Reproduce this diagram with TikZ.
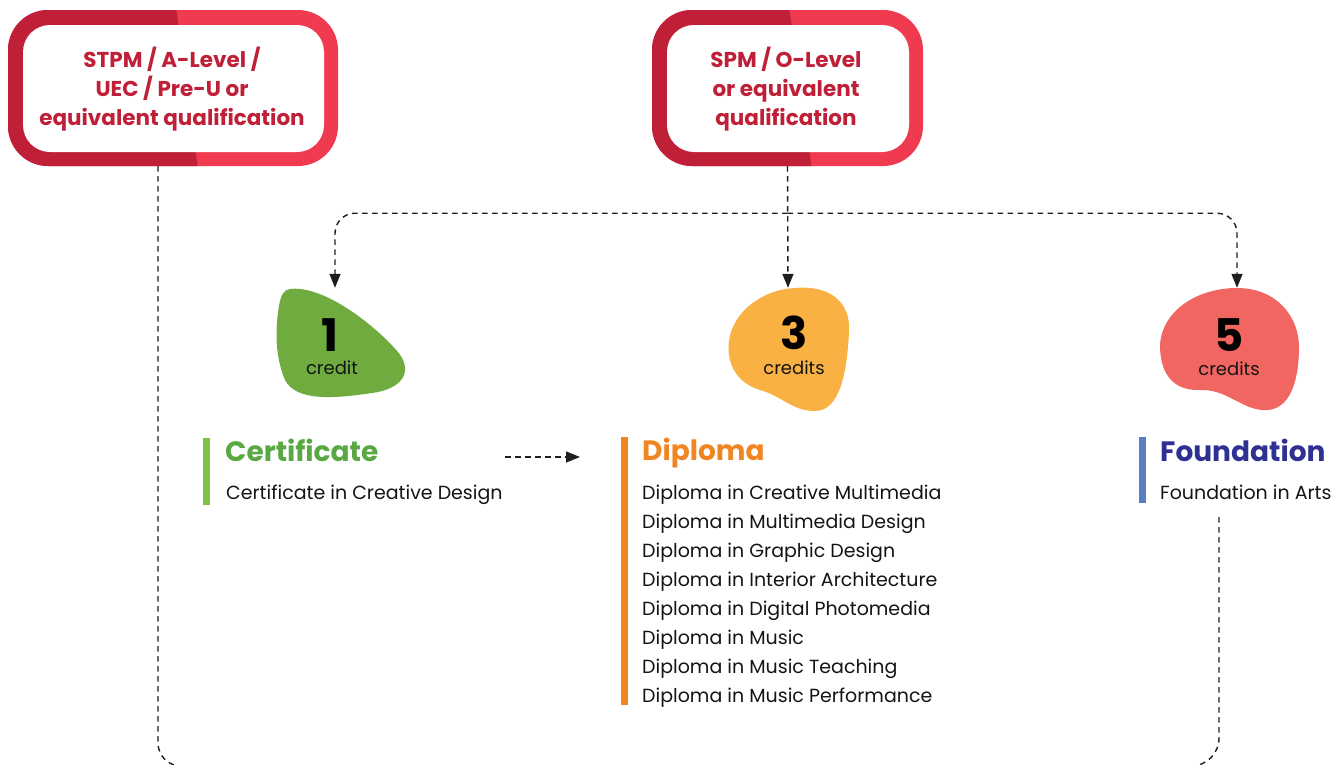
\documentclass[tikz,border=0pt]{standalone}
\usepackage{fontspec}
\setmainfont{Poppins}
\usetikzlibrary{arrows.meta,calc}
\definecolor{crimDark}{RGB}{192,31,56}
\definecolor{crimLight}{RGB}{239,58,79}
\definecolor{blobGreen}{RGB}{112,171,64}
\definecolor{blobOrange}{RGB}{249,177,67}
\definecolor{blobRed}{RGB}{242,102,98}
\definecolor{certHead}{RGB}{90,168,68}
\definecolor{certBar}{RGB}{125,194,67}
\definecolor{dipOrange}{RGB}{240,133,36}
\definecolor{fndHead}{RGB}{46,49,145}
\definecolor{fndBar}{RGB}{90,126,195}
\definecolor{txt}{RGB}{20,20,20}
\definecolor{lineCol}{RGB}{30,30,30}
\tikzset{
  body/.style={font=\fontsize{19}{29}\selectfont, text=txt, inner sep=0pt, anchor=base west},
  head/.style={font=\fontsize{28}{32}\selectfont\bfseries, inner sep=0pt, anchor=base west},
  qual/.style={font=\fontsize{21.5}{29}\selectfont\bfseries, text=crimDark, inner sep=0pt, anchor=base},
  num/.style={font=\fontsize{45}{45}\selectfont\bfseries, text=black, inner sep=0pt, anchor=base, text depth=0pt},
  cred/.style={font=\fontsize{18}{20}\selectfont, text=txt, inner sep=0pt, anchor=base, text height=12pt},
  frame/.style={inner sep=0pt, minimum width=#1, minimum height=156pt},
  blobanchor/.style={inner sep=0pt, minimum width=100pt, minimum height=114pt},
  conn/.style={draw=lineCol, line width=1.4pt, dash pattern=on 5.5pt off 4.5pt},
  arr/.style={-{Triangle[length=14pt,width=11pt]}},
}
\begin{document}
\begin{tikzpicture}[x=1pt,y=-1pt]
\useasboundingbox (0,0) rectangle (1341,764);
\clip (0,0) rectangle (1341,764);

% ---- qualification frames ----
\node[frame=330pt] (q1) at (173,88) {};
\node[frame=271pt] (q2) at (787.5,88) {};
\begin{scope}
  \fill[crimLight, rounded corners=40pt] (8,10) rectangle (338,166);
  \clip[rounded corners=40pt] (8,10) rectangle (338,166);
  \fill[crimDark] (0,0) -- (175,0) -- (198,170) -- (0,170) -- cycle;
\end{scope}
\fill[white, rounded corners=27pt] (23,25) rectangle (324,152);
\begin{scope}
  \fill[crimLight, rounded corners=40pt] (652,10) rectangle (923,166);
  \clip[rounded corners=40pt] (652,10) rectangle (923,166);
  \fill[crimDark] (640,0) -- (788,0) -- (812,170) -- (640,170) -- cycle;
\end{scope}
\fill[white, rounded corners=27pt] (667,25) rectangle (909,152);

\node[qual] (q1a) at (172,67) {STPM / A-Level /};
\node[qual] (q1b) at (172,96) {UEC / Pre-U or};
\node[qual] (q1c) at (172,125) {equivalent qualification};
\node[qual] (q2a) at (786,67) {SPM / O-Level};
\node[qual] (q2b) at (786,96) {or equivalent};
\node[qual] (q2c) at (786,125) {qualification};

% ---- blobs ----
\fill[blobGreen] (290,289) .. controls (322,285) and (372,322) .. (398,352)
  .. controls (414,372) and (402,389) .. (372,393)
  .. controls (332,399) and (296,401) .. (285,380)
  .. controls (275,356) and (275,330) .. (279,306)
  .. controls (281,294) and (284,290) .. (290,289);
\fill[blobOrange] (795,288) .. controls (830,285) and (851,302) .. (849,332)
  .. controls (847,372) and (840,411) .. (815,411)
  .. controls (792,411) and (782,396) .. (760,390)
  .. controls (736,383) and (726,362) .. (729,341)
  .. controls (733,310) and (765,289) .. (795,288);
\fill[blobRed] (1237,288) .. controls (1276,288) and (1300,316) .. (1299,350)
  .. controls (1298,390) and (1286,412) .. (1262,410)
  .. controls (1240,408) and (1226,389) .. (1200,390)
  .. controls (1170,391) and (1160,370) .. (1160,345)
  .. controls (1162,310) and (1198,288) .. (1237,288);
\node[blobanchor] (b1) at (335,345) {};
\node[blobanchor] (b3) at (788,345) {};
\node[blobanchor] (b5) at (1237,345) {};
\node[num] (n1) at (330,351) {1};
\node[cred] (c1) at (332,374) {credit};
\node[num] (n3) at (794,349) {3};
\node[cred] (c3) at (794,374) {credits};
\node[num] (n5) at (1229,351) {5};
\node[cred] (c5) at (1229,375) {credits};

% ---- programme lists ----
\fill[certBar] (203,438) rectangle (210,505);
\fill[dipOrange] (621,437) rectangle (628,705);
\fill[fndBar] (1139,437) rectangle (1146,503);

\node[head, text=certHead] (ch) at (225,461) {Certificate};
\node[body] (cs) at (226,499) {Certificate in Creative Design};
\node[head, text=dipOrange] (dh) at (642,460) {Diploma};
\foreach \t [count=\i] in {Creative Multimedia, Multimedia Design, Graphic Design,
  Interior Architecture, Digital Photomedia, Music, Music Teaching, Music Performance}
  \node[body] (d\i) at (642,{499+29.14*(\i-1)}) {Diploma in \t};
\node[head, text=fndHead] (fh) at (1160,461) {Foundation};
\node[body] (fs) at (1160,499) {Foundation in Arts};

% ---- connectors ----
\draw[conn, arr] (q2.south) -- (b3.north);
\coordinate (split) at ($(q2.south)+(0,47)$);
\draw[conn, arr, rounded corners=20pt] (split) -| (b1.north);
\draw[conn, arr, rounded corners=20pt] (split) -| (b5.north);
\draw[conn, arr] ($(ch.base west)+(280,-4)$) -- ($(dh.base west)+(-62,-3)$);
\coordinate (below) at (690,766);
\draw[conn, rounded corners=23pt] ($(q1.south)+(-15,0)$) |- (below);
\draw[conn, rounded corners=28pt] ($(fs.base west)+(59,18)$) |- (below);
\end{tikzpicture}
\end{document}
